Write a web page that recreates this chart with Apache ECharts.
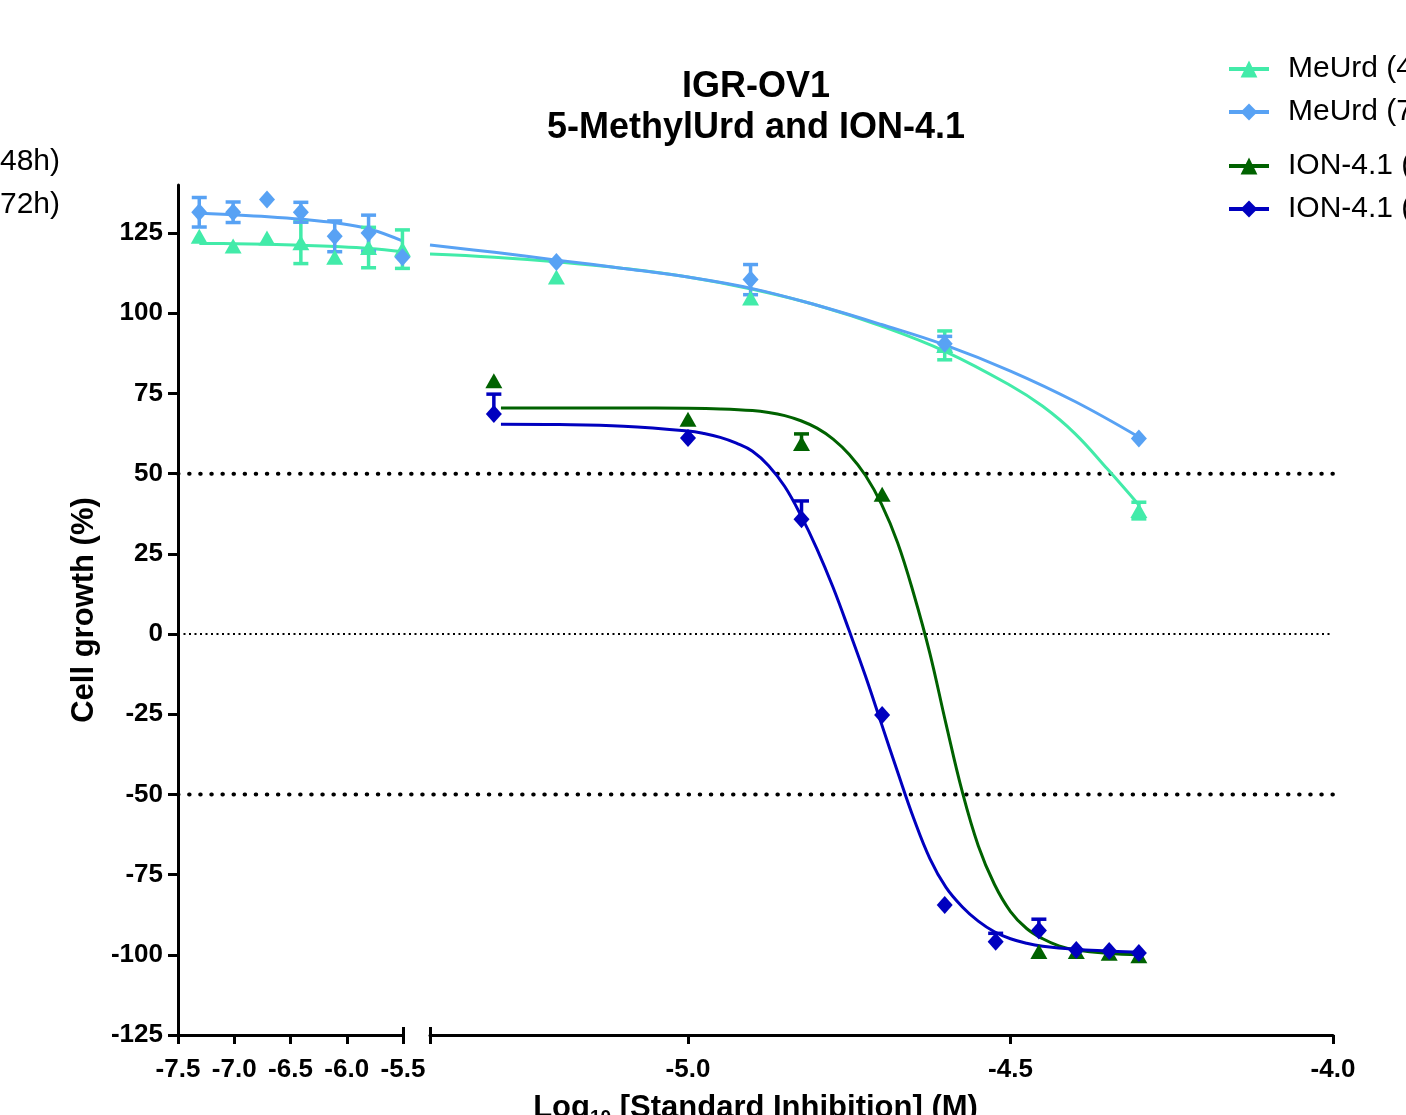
<!DOCTYPE html>
<html><head><meta charset="utf-8">
<script src="https://cdn.jsdelivr.net/npm/echarts@6/dist/echarts.min.js"></script>
<style>html,body{margin:0;padding:0;background:#fff}#c{width:1406px;height:1115px}</style>
</head><body><div id="c"></div>
<script>
// ---------- tick labels ----------
const yTicks = [-125, -100, -75, -50, -25, 0, 25, 50, 75, 100, 125];
const xTicksRight = [-5.4, -5.0, -4.5, -4.0];
const xLabelsRight = [-5.0, -4.5, -4.0];
const refLines = [50, 0, -50];

// ---------- MeUrd data (log10 M) ----------
const meurdXLeft = [-7.311, -7.010, -6.709, -6.408, -6.107, -5.806, -5.505];
const meurdXRight = [-5.204, -4.903, -4.602, -4.301];
const meurd48Left = [124, 121, 123.5, 122, 117.5, 120.5, 120];
const meurd48LeftErr = [0, 0, 0, 6.5, 0, 6.3, 6];
const meurd48Right = [111.3, 104.8, 90, 38.5];
const meurd48RightErr = [0, 0, 4.5, 2.6];
const meurd72Left = [131.5, 131.5, 135.5, 131.5, 124, 125, 117.5];
const meurd72LeftErr = [4.6, 3.2, 0, 3.1, 4.8, 5.6, 0];
const meurd72Right = [116, 110.5, 90.5, 61];
const meurd72RightErr = [0, 4.7, 2.3, 0];

// ---------- ION-4.1 data ----------
const ionX = [-5.301, -5.000, -4.824, -4.699, -4.602, -4.523, -4.456, -4.398, -4.347, -4.301];
const ion48 = [79, 67, 59.4, 43.6, null, null, -99, -99, -99.5, -100.3];
const ion48Err = [0, 0, 3, 0, 0, 0, 0, 0, 0, 0];
const ion72 = [68.6, 61.1, 35.8, -25.2, -84.5, -95.9, -92.4, -98.5, -98.8, -99.4];
const ion72Err = [6.2, 0, 5.7, 0, 0, 2.6, 3.5, 0, 0, 0];

// ---------- fitted curves ----------
const curve48LeftX = [-7.31, -7.0, -6.7, -6.4, -6.1, -5.8, -5.5];
const curve48LeftY = [121.8, 121.7, 121.5, 121.2, 120.8, 120.2, 119.2];
const curve72LeftX = [-7.31, -7.0, -6.7, -6.4, -6.1, -5.8, -5.5];
const curve72LeftY = [131.2, 130.7, 130.1, 129.3, 128.2, 126.3, 122.5];
const curve48RightX = [-5.4, -5.3, -5.2, -5.1, -5.0, -4.9, -4.8, -4.7, -4.6, -4.5, -4.45, -4.4, -4.35, -4.3];
const curve48RightY = [118.5, 117.5, 116, 114, 111.3, 107.5, 102.5, 96, 88, 77.5, 71, 62.5, 51.5, 40];
const curve72RightX = [-5.4, -5.3, -5.2, -5.1, -5.0, -4.9, -4.8, -4.7, -4.6, -4.5, -4.4, -4.3];
const curve72RightY = [121.3, 119, 116.5, 114, 111.3, 107.7, 102.5, 96.5, 90, 82, 72.5, 61.3];
const curveIon48X = [-5.29, -5.2, -5.1, -5.0, -4.95, -4.9, -4.875, -4.85, -4.825, -4.8, -4.775, -4.75, -4.725, -4.7, -4.675, -4.65, -4.625, -4.6, -4.575, -4.55, -4.525, -4.5, -4.475, -4.45, -4.425, -4.4, -4.35, -4.3];
const curveIon48Y = [70.5, 70.5, 70.5, 70.4, 70.2, 69.7, 69.1, 68.1, 66.5, 64.2, 60.8, 56, 49.5, 40.5, 28.5, 12.5, -6, -28, -49, -66, -78, -86.5, -91.8, -95, -97.2, -98.4, -99.5, -100];
const curveIon72X = [-5.29, -5.2, -5.1, -5.0, -4.975, -4.95, -4.925, -4.9, -4.875, -4.85, -4.825, -4.8, -4.775, -4.75, -4.725, -4.7, -4.675, -4.65, -4.625, -4.6, -4.575, -4.55, -4.525, -4.5, -4.475, -4.45, -4.4, -4.35, -4.3];
const curveIon72Y = [65.4, 65.3, 64.8, 63.3, 62.5, 61.3, 59.5, 57, 52.5, 46, 37, 26.5, 14.5, 1, -13, -28, -43, -57.5, -70, -79, -85, -89.5, -92.8, -95, -96.4, -97.3, -98.3, -98.8, -99.2];

const C48 = '#42EBA9', C72 = '#58A2F4', CI48 = '#006200', CI72 = '#0000BF';
const FONT = 'Liberation Sans, Arial, sans-serif';

const zip = (xs, ys) => xs.map((x, i) => [x, ys[i]]);

function curve(name, idx, xs, ys, color, symbol) {
  return {
    name, type: 'line', xAxisIndex: idx, yAxisIndex: idx, data: zip(xs, ys),
    smooth: 0.4, showSymbol: false, symbol, symbolSize: 16,
    lineStyle: { color, width: 3 }, itemStyle: { color }, silent: true, z: 2, clip: true
  };
}
function points(name, idx, xs, ys, color, symbol, size) {
  return {
    name, type: 'scatter', xAxisIndex: idx, yAxisIndex: idx,
    data: zip(xs, ys).filter(d => d[1] != null), symbol, symbolSize: size,
    itemStyle: { color, opacity: 1 }, silent: true, z: 4
  };
}
function errBars(name, idx, xs, ys, errs, color, oneSided) {
  const data = xs.map((x, i) => [x, ys[i], errs[i]]).filter(d => d[1] != null && d[2] > 0);
  return {
    name, type: 'custom', xAxisIndex: idx, yAxisIndex: idx, data, silent: true, z: 3,
    renderItem(params, api) {
      const x = api.value(0), y = api.value(1), e = api.value(2);
      const hi = api.coord([x, y + e]);
      const lo = api.coord([x, oneSided ? y : y - e]);
      const w = 7.5;
      const st = { stroke: color, lineWidth: 3.5 };
      const ch = [
        { type: 'line', shape: { x1: hi[0], y1: hi[1], x2: lo[0], y2: lo[1] }, style: st },
        { type: 'line', shape: { x1: hi[0] - w, y1: hi[1], x2: hi[0] + w, y2: hi[1] }, style: st }
      ];
      if (!oneSided) ch.push({ type: 'line', shape: { x1: lo[0] - w, y1: lo[1], x2: lo[0] + w, y2: lo[1] }, style: st });
      return { type: 'group', children: ch };
    }
  };
}
function refLine(v) {
  const thin = v === 0;
  return {
    type: 'line', xAxisIndex: 2, yAxisIndex: 2, data: [[0, v], [1, v]], symbol: 'none', silent: true, z: 1,
    lineStyle: thin ? { color: '#000', width: 2, type: [2, 3.5], cap: 'butt' }
                    : { color: '#000', width: 4, type: [0.5, 10.6], cap: 'round' }
  };
}

const TRI = [17, 15], DIA = [16, 18];
const axisLine = { show: true, onZero: false, lineStyle: { color: '#000', width: 3 } };
const lbl = { color: '#000', fontSize: 26, fontWeight: 'bold', fontFamily: FONT };
const YMIN = -125, YMAX = 140;
const GTOP = 185, GH = 850;
const legendText = { fontSize: 30, color: '#000', fontFamily: FONT, padding: [0, 0, 0, 14] };

const chart = echarts.init(document.getElementById('c'), null, { renderer: 'canvas' });
chart.setOption({
  animation: false,
  backgroundColor: '#fff',
  textStyle: { fontFamily: FONT },
  title: [
    { text: 'IGR-OV1\n5-MethylUrd and ION-4.1', left: 756, textAlign: 'center', top: 67, padding: 0,
      textStyle: { fontSize: 36, fontWeight: 'bold', color: '#000', lineHeight: 41, fontFamily: FONT } },
    { text: '48h)', right: 1346, top: 147, padding: 0, textStyle: { fontSize: 30, fontWeight: 'normal', color: '#000', fontFamily: FONT } },
    { text: '72h)', right: 1346, top: 190, padding: 0, textStyle: { fontSize: 30, fontWeight: 'normal', color: '#000', fontFamily: FONT } }
  ],
  legend: [
    { data: ['MeUrd (48h)', 'MeUrd (72h)'], orient: 'vertical', left: 1222, top: 49, itemWidth: 40, itemHeight: 21, itemGap: 13,
      selectedMode: false, lineStyle: { width: 4 }, textStyle: legendText },
    { data: ['ION-4.1 (48h)', 'ION-4.1 (72h)'], orient: 'vertical', left: 1222, top: 146, itemWidth: 40, itemHeight: 21, itemGap: 13,
      selectedMode: false, lineStyle: { width: 4 }, textStyle: legendText }
  ],
  grid: [
    { left: 178, width: 225, top: GTOP, height: GH, outerBoundsMode: 'none', containLabel: false },
    { left: 430, width: 903, top: GTOP, height: GH, outerBoundsMode: 'none', containLabel: false },
    { left: 178, width: 1155, top: GTOP, height: GH, outerBoundsMode: 'none', containLabel: false }
  ],
  xAxis: [
    { type: 'value', gridIndex: 0, min: -7.5, max: -5.5, interval: 0.5, axisLine,
      axisTick: { show: true, length: 9, lineStyle: { color: '#000', width: 3 } },
      axisLabel: { ...lbl, margin: 22, showMinLabel: true, showMaxLabel: true, formatter: v => v.toFixed(1) },
      splitLine: { show: false } },
    { type: 'value', gridIndex: 1, min: -5.4, max: -4.0, axisLine,
      axisTick: { show: true, length: 9, customValues: xTicksRight, lineStyle: { color: '#000', width: 3 } },
      axisLabel: { ...lbl, margin: 22, customValues: xLabelsRight, formatter: v => v.toFixed(1) },
      splitLine: { show: false } },
    { type: 'value', gridIndex: 2, min: 0, max: 1, axisLine: { show: false, onZero: false }, axisTick: { show: false },
      axisLabel: { show: false }, splitLine: { show: false },
      name: '{a|Log}{s|10}{a| [Standard Inhibition] (M)}', nameLocation: 'middle', nameGap: 55,
      nameTextStyle: { color: '#000', rich: {
        a: { fontSize: 31, fontWeight: 'bold', color: '#000', fontFamily: FONT },
        s: { fontSize: 19, fontWeight: 'bold', color: '#000', fontFamily: FONT, padding: [18, 0, 0, 0] } } } },
    { type: 'value', gridIndex: 0, min: -7.5, max: -5.5, position: 'bottom', offset: 0, axisLine: { show: false, onZero: false },
      axisTick: { show: true, inside: true, length: 8, customValues: [-5.5], lineStyle: { color: '#000', width: 3 } },
      axisLabel: { show: false }, splitLine: { show: false } },
    { type: 'value', gridIndex: 1, min: -5.4, max: -4.0, position: 'bottom', offset: 0, axisLine: { show: false, onZero: false },
      axisTick: { show: true, inside: true, length: 8, customValues: [-5.4], lineStyle: { color: '#000', width: 3 } },
      axisLabel: { show: false }, splitLine: { show: false } }
  ],
  yAxis: [
    { type: 'value', gridIndex: 0, min: YMIN, max: YMAX, axisLine,
      axisTick: { show: true, length: 10, customValues: yTicks, lineStyle: { color: '#000', width: 3 } },
      axisLabel: { ...lbl, margin: 15, customValues: yTicks },
      splitLine: { show: false },
      name: 'Cell growth (%)', nameLocation: 'middle', nameGap: 78,
      nameTextStyle: { fontSize: 31, fontWeight: 'bold', color: '#000', fontFamily: FONT } },
    { type: 'value', gridIndex: 1, min: YMIN, max: YMAX, show: false, splitLine: { show: false } },
    { type: 'value', gridIndex: 2, min: YMIN, max: YMAX, show: false, splitLine: { show: false } }
  ],
  series: [
    ...refLines.map(refLine),
    curve('MeUrd (48h)', 0, curve48LeftX, curve48LeftY, C48, 'triangle'),
    curve('MeUrd (48h)', 1, curve48RightX, curve48RightY, C48, 'triangle'),
    curve('MeUrd (72h)', 0, curve72LeftX, curve72LeftY, C72, 'diamond'),
    curve('MeUrd (72h)', 1, curve72RightX, curve72RightY, C72, 'diamond'),
    curve('ION-4.1 (48h)', 1, curveIon48X, curveIon48Y, CI48, 'triangle'),
    curve('ION-4.1 (72h)', 1, curveIon72X, curveIon72Y, CI72, 'diamond'),
    errBars('e48L', 0, meurdXLeft, meurd48Left, meurd48LeftErr, C48, false),
    errBars('e48R', 1, meurdXRight, meurd48Right, meurd48RightErr, C48, false),
    errBars('e72L', 0, meurdXLeft, meurd72Left, meurd72LeftErr, C72, false),
    errBars('e72R', 1, meurdXRight, meurd72Right, meurd72RightErr, C72, false),
    errBars('ei48', 1, ionX, ion48, ion48Err, CI48, true),
    errBars('ei72', 1, ionX, ion72, ion72Err, CI72, true),
    points('p48L', 0, meurdXLeft, meurd48Left, C48, 'triangle', TRI),
    points('p48R', 1, meurdXRight, meurd48Right, C48, 'triangle', TRI),
    points('p72L', 0, meurdXLeft, meurd72Left, C72, 'diamond', DIA),
    points('p72R', 1, meurdXRight, meurd72Right, C72, 'diamond', DIA),
    points('pi48', 1, ionX, ion48, CI48, 'triangle', TRI),
    points('pi72', 1, ionX, ion72, CI72, 'diamond', DIA)
  ]
});
</script></body></html>
